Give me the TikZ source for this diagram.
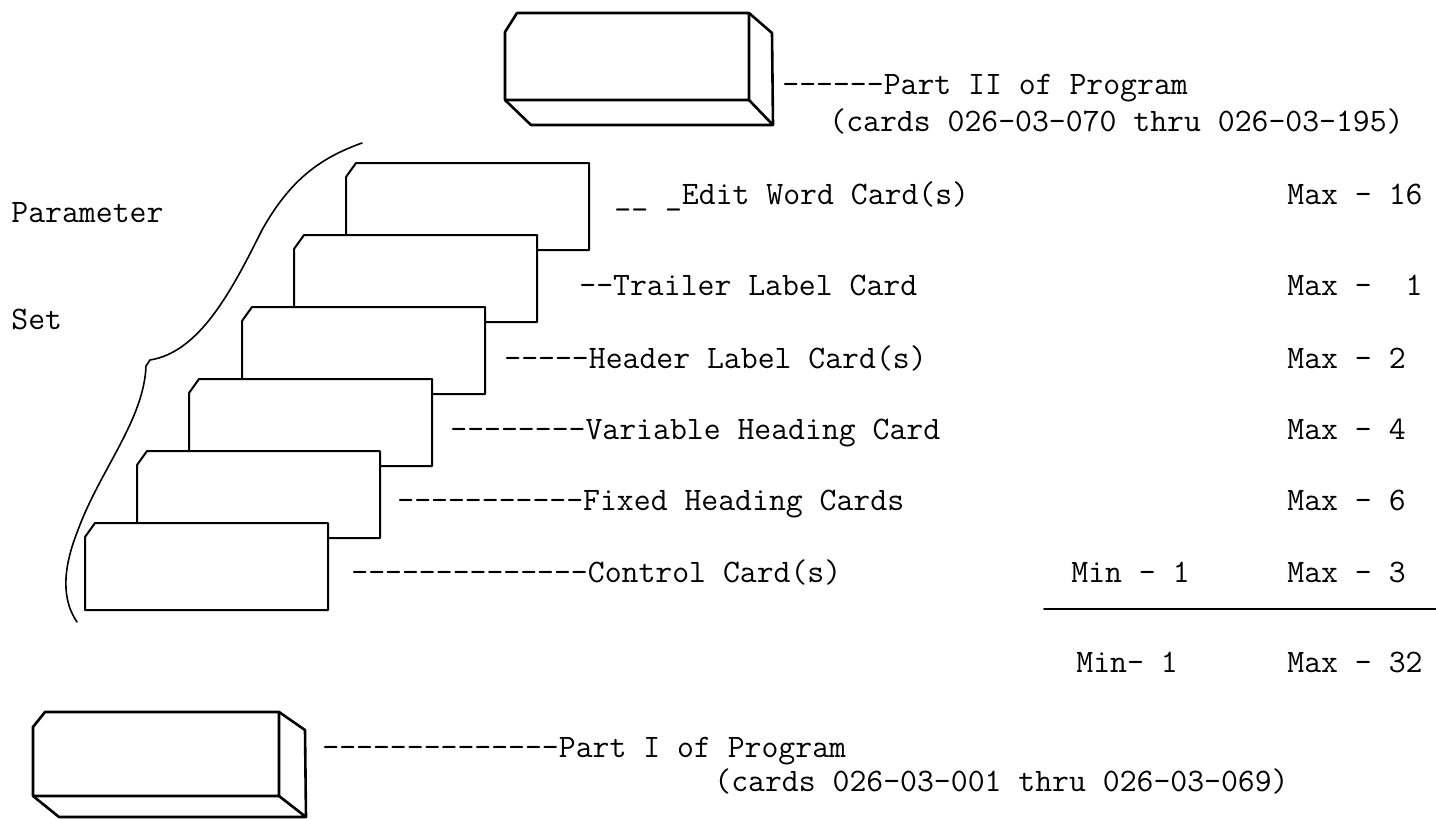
\documentclass[tikz,border=0pt]{standalone}
\begin{document}
\begin{tikzpicture}[x=0.5pt,y=-0.5pt,line join=round,line cap=round,
		font=\fontsize{16.4}{19}\selectfont\ttfamily,
		card/.style={draw,fill=white,line width=1pt},
		box/.style={draw,line width=1.3pt},
		lbl/.style={anchor=base west,inner sep=0pt}]
			\useasboundingbox (0,0) rectangle (1436,819);
			\draw[box] (505,32)--(517,13)--(749,13)--(749,100)--(505,100)--cycle;
			\draw[box] (749,13)--(772,33)--(773,125)--(531,125)--(505,100) (749,100)--(773,125);
			\node[lbl] (part2) at (782,94) {------Part II of Program};
			\node[lbl] (cards2) at (829,131) {(cards 026-03-070 thru 026-03-195)};
			\draw[line width=.8pt] (362,143) .. controls (320,158) and (290,180) .. (262,230)
			.. controls (232,290) and (200,352) .. (150,360) -- (146,366)
			.. controls (144,420) and (100,470) .. (78,530)
			.. controls (62,570) and (62,600) .. (77,622);
			\node[lbl] (param) at (11,222) {Parameter};
			\node[lbl] (set) at (11,329) {Set};
			\draw[card] (346,177)--(356,163)--(589,163)--(589,250)--(346,250)--cycle;
			\draw[card] (294,249)--(304,235)--(537,235)--(537,322)--(294,322)--cycle;
			\draw[card] (242,321)--(252,307)--(485,307)--(485,394)--(242,394)--cycle;
			\draw[card] (189,393)--(199,379)--(432,379)--(432,466)--(189,466)--cycle;
			\draw[card] (137,465)--(147,451)--(380,451)--(380,538)--(137,538)--cycle;
			\draw[card] (85,537)--(95,523)--(328,523)--(328,610)--(85,610)--cycle;
			\node[lbl] (edit) at (614,204) {\_\_ \_Edit Word Card(s)};
			\node[lbl] (trailer) at (579,295) {--Trailer Label Card};
			\node[lbl] (header) at (504,368) {-----Header Label Card(s)};
			\node[lbl] (variable) at (450,439) {--------Variable Heading Card};
			\node[lbl] (fixed) at (397,510) {-----------Fixed Heading Cards};
			\node[lbl] (control) at (351,582) {--------------Control Card(s)};
			\node[lbl] (max16) at (1287,204) {Max - 16};
			\node[lbl] (max1) at (1287,295) {Max -~~1};
			\node[lbl] (max2) at (1287,368) {Max - 2};
			\node[lbl] (max4) at (1287,439) {Max - 4};
			\node[lbl] (max6) at (1287,510) {Max - 6};
			\node[lbl] (max3) at (1287,582) {Max - 3};
			\node[lbl] (min1) at (1071,582) {Min - 1};
			\draw[line width=1pt] (1044,609)--(1436,609);
			\node[lbl] (mintot) at (1076,672) {Min- 1};
			\node[lbl] (maxtot) at (1287,672) {Max - 32};
			\draw[box] (33,727)--(45,712)--(279,712)--(279,796)--(33,796)--cycle;
			\draw[box] (279,712)--(305,730)--(306,817)--(59,817)--(33,796) (279,796)--(306,817);
			\node[lbl] (part1) at (322,757) {--------------Part I of Program};
			\node[lbl] (cards1) at (714,791) {(cards 026-03-001 thru 026-03-069)};
	\end{tikzpicture}
\end{document}
